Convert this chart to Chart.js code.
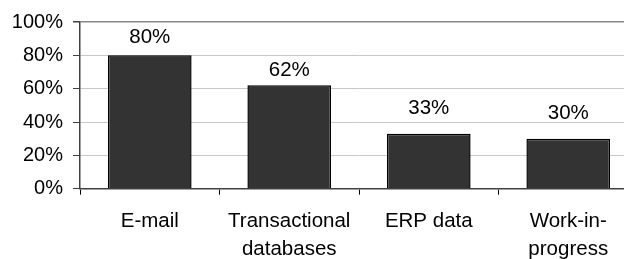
<!DOCTYPE html>
<html>
<head>
<meta charset="utf-8">
<script src="https://cdn.jsdelivr.net/npm/chart.js@4/dist/chart.umd.min.js"></script>
<style>
  html, body { margin: 0; padding: 0; background: #fff; overflow: hidden; }
  #wrap { position: relative; width: 640px; height: 259px; }
</style>
</head>
<body>
<div id="wrap"><canvas id="c" width="640" height="259"></canvas></div>
<script>
const categories = [["E-mail"], ["Transactional", "databases"], ["ERP data"], ["Work-in-", "progress"]];
const values = [80, 62, 33, 30];
const yTicks = [0, 20, 40, 60, 80, 100];

const FONT = "Arial, 'Liberation Sans', sans-serif";

const valueLabels = {
  id: 'valueLabels',
  afterDatasetsDraw(chart, args, opts) {
    const ctx = chart.ctx;
    const meta = chart.getDatasetMeta(0);
    ctx.save();
    ctx.font = '20.5px ' + FONT;
    ctx.fillStyle = '#000';
    ctx.textAlign = 'center';
    ctx.textBaseline = 'alphabetic';
    meta.data.forEach((bar, i) => {
      const off = opts.offsets[i];
      ctx.fillText(values[i] + '%', bar.x, bar.y - off);
    });
    ctx.restore();
  }
};

new Chart(document.getElementById('c'), {
  type: 'bar',
  data: {
    labels: categories,
    datasets: [{
      data: values,
      backgroundColor: '#333333',
      borderColor: '#000000',
      borderWidth: 1.5,
      barPercentage: 0.6,
      categoryPercentage: 1.0
    }]
  },
  options: {
    responsive: false,
    animation: false,
    devicePixelRatio: 1,
    layout: { padding: { top: 21, right: 2, left: 0, bottom: 0 } },
    plugins: {
      legend: { display: false },
      tooltip: { enabled: false },
      valueLabels: { offsets: [12, 9, 20, 20] }
    },
    scales: {
      x: {
        offset: true,
        grid: {
          offset: true,
          drawOnChartArea: false,
          drawTicks: true,
          tickLength: 6,
          color: '#000'
        },
        border: { color: '#404040', width: 1.5 },
        ticks: {
          color: '#000',
          padding: 12,
          maxRotation: 0,
          autoSkip: false,
          font: { family: FONT, size: 20.5, lineHeight: 1.39 }
        },
        afterFit(scale) { scale.height = 70.3; }
      },
      y: {
        min: 0,
        max: 100,
        afterBuildTicks(scale) { scale.ticks = yTicks.map(v => ({ value: v })); },
        grid: {
          drawTicks: true,
          tickLength: 7,
          color: ctx => (ctx.tick && ctx.tick.value === 100) ? '#888888' : '#c8c8c8',
          lineWidth: ctx => (ctx.tick && ctx.tick.value === 100) ? 1.5 : 1,
          tickColor: '#404040'
        },
        border: { color: '#404040', width: 1.5 },
        ticks: {
          color: '#000',
          padding: 10,
          font: { family: FONT, size: 20 },
          callback: v => v + '%'
        },
        afterFit(scale) { scale.width = 80; }
      }
    }
  },
  plugins: [valueLabels]
});
</script>
</body>
</html>
